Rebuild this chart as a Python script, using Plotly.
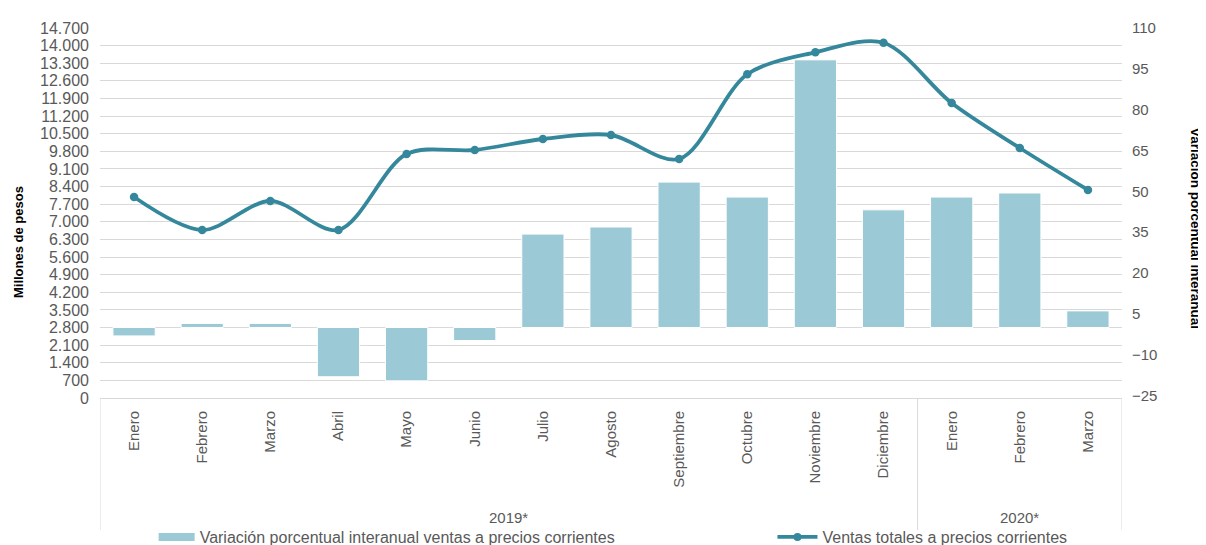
import plotly.graph_objects as go

months = ["Enero", "Febrero", "Marzo", "Abril", "Mayo", "Junio", "Julio", "Agosto",
          "Septiembre", "Octubre", "Noviembre", "Diciembre", "Enero", "Febrero", "Marzo"]
years = ["2019*"] * 12 + ["2020*"] * 3
variacion = [-3.1, 1.5, 1.5, -18.1, -19.6, -4.8, 34.3, 36.9, 53.4, 47.9, 98.3, 43.2, 47.9, 49.4, 6.1]
ventas = [7986, 6675, 7827, 6675, 9694, 9853, 10290, 10449, 9495, 12861, 13735, 14116, 11720, 9932, 8264]
left_ticks = list(range(0, 14701, 700))
right_ticks = list(range(-25, 111, 15))

BAR_NAME = "Variación porcentual interanual ventas a precios corrientes"
LINE_NAME = "Ventas totales a precios corrientes"
BAR_COLOR = "#9CC9D6"
LINE_COLOR = "#35889C"
GRID = "#D9D9D9"
TXT = "#595959"
FONT = "Liberation Sans, Arial, sans-serif"

xpos = list(range(len(months)))

fig = go.Figure()
fig.add_trace(go.Bar(x=xpos, y=variacion, yaxis="y2", marker=dict(color=BAR_COLOR, line=dict(color="white", width=1)),
                     width=0.62, showlegend=False, name=BAR_NAME))
fig.add_trace(go.Scatter(x=xpos, y=ventas, yaxis="y", mode="lines+markers",
                         line=dict(color=LINE_COLOR, width=3.8, shape="spline", smoothing=0.9),
                         marker=dict(color=LINE_COLOR, size=8.5), showlegend=False, name=LINE_NAME))
# legend entries
fig.add_trace(go.Scatter(x=[None], y=[None], mode="lines", name=BAR_NAME,
                         line=dict(color=BAR_COLOR, width=8), legend="legend"))
fig.add_trace(go.Scatter(x=[None], y=[None], mode="lines+markers", name=LINE_NAME,
                         line=dict(color=LINE_COLOR, width=3.8), marker=dict(color=LINE_COLOR, size=8),
                         legend="legend2"))

# group dividers and labels
groups = []
for i, y in enumerate(years):
    if not groups or groups[-1][0] != y:
        groups.append([y, i, i])
    else:
        groups[-1][2] = i
shapes = []
annotations = []
bottom = -0.357
shapes.append(dict(type="line", xref="x", yref="paper", x0=-0.5, x1=-0.5, y0=0, y1=bottom,
                   line=dict(color=GRID, width=1)))
for g, a, b in groups:
    shapes.append(dict(type="line", xref="x", yref="paper", x0=b + 0.5, x1=b + 0.5, y0=0, y1=bottom,
                       line=dict(color=GRID, width=1)))
    annotations.append(dict(text=g, xref="x", yref="paper", x=(a + b) / 2, y=-0.324, showarrow=False,
                            font=dict(size=15, color=TXT, family=FONT), yanchor="middle"))

annotations.append(dict(text="<b>Millones de pesos</b>", xref="paper", yref="paper", x=-0.0802, y=0.4216,
                        xanchor="center", yanchor="middle",
                        textangle=-90, showarrow=False, font=dict(size=13, color="black", family=FONT)))
annotations.append(dict(text="<b>Variación porcentual interanual</b>", xref="paper", yref="paper", x=1.082, y=0.459,
                        xanchor="right", yanchor="middle",
                        textangle=90, showarrow=False, font=dict(size=13.5, color="black", family=FONT)))

fig.update_layout(
    width=1198, height=537,
    margin=dict(l=92, r=84, t=20, b=147, autoexpand=False),
    plot_bgcolor="white", paper_bgcolor="white",
    separators=",.",
    font=dict(family=FONT, color=TXT, size=15),
    xaxis=dict(range=[-0.5, 14.5], tickvals=xpos, ticktext=months, tickangle=-90,
               showgrid=False, zeroline=False, showline=True, linecolor=GRID, linewidth=1,
               ticks="", tickfont=dict(size=15, color=TXT), automargin=False, ticklabelstandoff=6),
    yaxis=dict(range=[0, 14700], tickvals=left_ticks, tickformat=",d", showgrid=True, gridcolor=GRID,
               gridwidth=1, zeroline=False, showline=False, ticks="", tickfont=dict(size=16, color=TXT),
               automargin=False, ticklabelstandoff=10),
    yaxis2=dict(range=[-25.9, 110], overlaying="y", side="right", tickvals=right_ticks, showgrid=False,
                zeroline=False, showline=False, ticks="", tickfont=dict(size=15, color=TXT), automargin=False,
                ticklabelstandoff=9),
    legend=dict(orientation="h", x=0.0525, y=-0.3757, xanchor="left", yanchor="middle",
                font=dict(size=16, color=TXT), itemwidth=36, bgcolor="rgba(0,0,0,0)"),
    legend2=dict(orientation="h", x=0.658, y=-0.3757, xanchor="left", yanchor="middle",
                 font=dict(size=16, color=TXT), itemwidth=40, bgcolor="rgba(0,0,0,0)"),
    shapes=shapes, annotations=annotations,
)

fig.write_html("out.html")
